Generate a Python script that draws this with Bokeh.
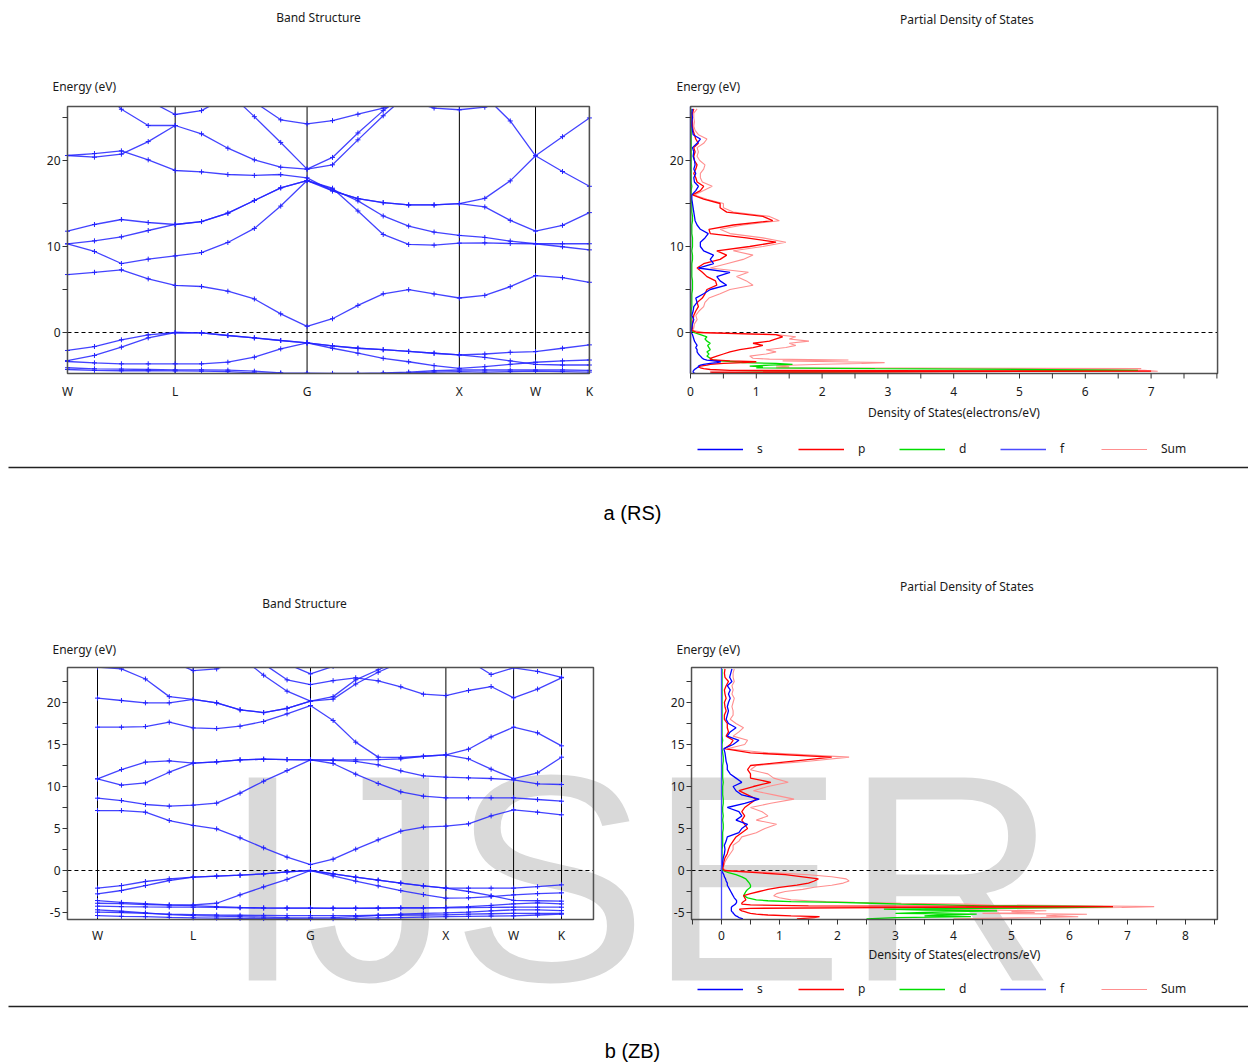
from bokeh.plotting import figure
from bokeh.models import Range1d, Legend, LegendItem
from bokeh.layouts import column
from bokeh.embed import file_html
from bokeh.resources import INLINE
from bokeh.core.properties import value

nan = float("nan")

# ---------------- k-path (W-L-G-X-W-K) ----------------
k_path = [0.0, 0.177, 0.354, 0.530, 0.707, 0.880, 1.053, 1.227, 1.400, 1.573,
          1.740, 1.907, 2.073, 2.240, 2.407, 2.573, 2.740, 2.907, 3.073, 3.250, 3.427]
sym_k = [0.0, 0.707, 1.573, 2.573, 3.073, 3.427]
sym_labels = ["W", "L", "G", "X", "W", "K"]

# ---------------- band energies (eV), RS ----------------
bands_rs = [
    [-2.09, -1.63, -0.85, -0.27, 0.0, -0.05, -0.35, -0.62, -0.93, -1.2, -1.55, -1.83, -2.0, -2.2, -2.41, -2.6, -2.5, -2.3, -2.22, -1.83, -1.44],
    [-3.26, -2.67, -1.7, -0.62, 0.0, -0.05, -0.35, -0.62, -0.93, -1.2, -1.83, -2.41, -3.0, -3.4, -3.85, -4.17, -3.97, -3.7, -3.46, -3.3, -3.2],
    [-3.37, -3.53, -3.64, -3.64, -3.64, -3.64, -3.45, -2.87, -1.9, -1.2, -1.55, -1.83, -2.0, -2.2, -2.41, -2.6, -2.9, -3.3, -3.7, -3.78, -3.78],
    [-4.1, -4.22, -4.26, -4.3, -4.34, -4.34, -4.38, -4.5, -4.7, -4.73, -4.75, -4.75, -4.7, -4.6, -4.45, -4.36, -4.36, -4.36, -4.36, -4.36, -4.4],
    [-4.3, -4.4, -4.45, -4.45, -4.47, -4.5, -4.55, -4.7, -4.75, -4.78, -4.8, -4.8, -4.78, -4.7, -4.6, -4.55, -4.6, -4.55, -4.5, -4.55, -4.6],
    [6.74, 7.0, 7.29, 6.24, 5.47, 5.35, 4.8, 3.9, 2.17, 0.72, 1.6, 3.15, 4.5, 4.98, 4.48, 4.01, 4.32, 5.33, 6.62, 6.38, 5.84],
    [10.31, 9.42, 8.02, 8.53, 8.91, 9.3, 10.47, 12.1, 14.7, 17.67, 16.78, 14.13, 11.4, 10.24, 10.16, 10.39, 10.43, 10.35, 10.32, 9.97, 9.61],
    [10.31, 10.66, 11.12, 11.86, 12.56, 12.9, 13.88, 15.35, 16.82, 17.67, 16.66, 15.3, 13.55, 12.38, 11.68, 11.29, 11.05, 10.63, 10.32, 10.32, 10.32],
    [11.78, 12.56, 13.14, 12.79, 12.56, 12.9, 13.88, 15.35, 16.82, 17.67, 16.47, 15.57, 15.1, 14.83, 14.83, 14.99, 14.6, 13.04, 11.79, 12.46, 13.94],
    [20.58, 20.81, 21.12, 20.08, 18.84, 18.68, 18.37, 18.26, 18.37, 17.98, 16.47, 15.57, 15.1, 14.83, 14.83, 14.99, 15.6, 17.63, 20.55, 22.77, 24.95],
    [20.58, 20.39, 20.74, 22.2, 24.07, 23.1, 21.43, 20.08, 19.22, 19.0, 20.36, 23.2, 25.8, 28.0, nan, nan, nan, nan, nan, nan, nan],
    [nan, nan, nan, nan, nan, nan, 28.0, 25.1, 22.1, 19.0, 19.5, 22.4, 25.2, 27.8, nan, nan, nan, nan, nan, nan, nan],
    [nan, 29.0, 25.96, 24.07, 24.07, nan, nan, nan, nan, nan, nan, nan, nan, nan, nan, nan, nan, nan, nan, nan, nan],
    [nan, nan, nan, 27.0, 25.35, 25.8, 27.5, nan, nan, nan, nan, nan, nan, nan, nan, nan, nan, nan, nan, nan, nan],
    [nan, nan, nan, nan, nan, nan, nan, 26.8, 24.73, 24.26, 24.64, 25.38, 26.1, 27.0, nan, nan, nan, nan, nan, nan, nan],
    [nan, nan, nan, nan, nan, nan, nan, nan, nan, nan, nan, nan, nan, 27.0, 26.1, 25.9, 26.2, 27.5, nan, nan, nan],
    [nan, nan, nan, nan, nan, nan, nan, nan, nan, nan, nan, nan, nan, nan, nan, nan, 27.5, 24.6, 20.55, 18.72, 17.0],
]

# ---------------- band energies (eV), ZB ----------------
bands_zb = [
    [-2.1, -1.79, -1.31, -0.99, -0.79, -0.67, -0.56, -0.4, -0.16, 0.0, -0.4, -0.8, -1.15, -1.5, -1.83, -2.1, -2.1, -2.1, -2.1, -1.93, -1.71],
    [-2.78, -2.38, -1.79, -1.19, -0.79, -0.67, -0.56, -0.4, -0.16, 0.0, -0.64, -1.27, -1.83, -2.39, -2.86, -3.3, -3.25, -3.1, -2.9, -2.75, -2.66],
    [-3.58, -3.8, -3.95, -4.1, -4.1, -3.9, -2.9, -1.95, -1.05, 0.0, -0.4, -0.8, -1.15, -1.5, -1.83, -2.1, -2.5, -3.0, -3.55, -3.6, -3.65],
    [-3.9, -3.95, -4.05, -4.12, -4.17, -4.3, -4.4, -4.45, -4.47, -4.48, -4.48, -4.47, -4.45, -4.43, -4.42, -4.4, -4.3, -4.15, -3.97, -3.85, -3.98],
    [-4.25, -4.3, -4.33, -4.35, -4.37, -4.4, -4.45, -4.47, -4.48, -4.48, -4.5, -4.5, -4.5, -4.48, -4.47, -4.45, -4.42, -4.4, -4.37, -4.37, -4.37],
    [-4.68, -4.85, -5.05, -5.25, -5.36, -5.42, -5.5, -5.55, -5.6, -5.63, -5.6, -5.5, -5.35, -5.2, -5.1, -5.04, -4.95, -4.8, -4.68, -4.68, -4.77],
    [-4.96, -5.0, -5.1, -5.2, -5.25, -5.3, -5.33, -5.35, -5.37, -5.38, -5.38, -5.36, -5.33, -5.3, -5.3, -5.28, -5.2, -5.15, -5.1, -5.1, -5.1],
    [-5.36, -5.45, -5.5, -5.58, -5.63, -5.67, -5.7, -5.72, -5.74, -5.75, -5.74, -5.7, -5.65, -5.6, -5.55, -5.5, -5.45, -5.42, -5.4, -5.3, -5.2],
    [7.14, 7.14, 6.94, 5.95, 5.36, 4.96, 3.89, 2.7, 1.59, 0.71, 1.35, 2.54, 3.65, 4.68, 5.16, 5.28, 5.56, 6.5, 7.22, 6.94, 6.63],
    [8.61, 8.33, 7.86, 7.66, 7.78, 8.02, 9.21, 10.63, 11.9, 13.17, 12.74, 11.47, 10.36, 9.37, 8.85, 8.65, 8.65, 8.65, 8.65, 8.45, 8.25],
    [10.91, 10.16, 10.44, 11.7, 12.78, 12.94, 13.17, 13.25, 13.21, 13.17, 13.1, 12.98, 12.58, 11.87, 11.27, 11.11, 11.03, 10.95, 10.79, 10.32, 10.24],
    [10.91, 12.02, 12.9, 13.06, 12.78, 12.94, 13.17, 13.25, 13.21, 13.17, 13.17, 13.17, 13.2, 13.3, 13.6, 13.77, 13.3, 12.06, 10.95, 11.63, 13.49],
    [17.06, 17.06, 17.14, 17.66, 16.98, 16.9, 17.18, 17.74, 18.65, 19.64, 17.86, 15.28, 13.5, 13.45, 13.6, 13.77, 14.44, 15.9, 17.06, 16.39, 14.84],
    [20.52, 20.24, 19.96, 19.96, 20.36, 19.96, 19.13, 18.8, 19.3, 20.16, 20.7, 22.7, 23.9, 25.0, nan, nan, nan, nan, nan, nan, nan],
    [24.2, 24.0, 22.8, 20.7, 20.36, 19.96, 19.13, 18.8, 19.3, 20.16, 20.4, 22.2, 23.6, 24.8, nan, nan, nan, nan, nan, nan, nan],
    [nan, nan, nan, nan, nan, nan, 25.5, 23.25, 21.35, 20.16, nan, nan, nan, nan, nan, nan, nan, nan, nan, nan, nan],
    [nan, nan, nan, nan, nan, nan, nan, nan, 24.6, 23.41, 24.3, nan, nan, nan, nan, nan, nan, nan, nan, nan, nan],
    [nan, nan, nan, nan, nan, nan, nan, 24.6, 22.7, 22.14, 22.6, 22.94, 22.58, 21.87, 20.99, 20.83, 21.43, 21.9, 20.56, 21.6, 22.94],
    [nan, nan, nan, 25.0, 23.8, 24.0, 25.0, nan, nan, nan, nan, nan, nan, nan, nan, nan, nan, nan, nan, nan, nan],
    [nan, nan, nan, nan, nan, nan, nan, nan, nan, nan, nan, nan, nan, nan, nan, nan, 25.0, 23.33, 24.13, 23.7, 23.0],
]

# ---------------- partial DOS, RS ----------------
energy_rs = [-4.9, -4.8, -4.7, -4.6, -4.5, -4.4, -4.3, -4.2, -4.1, -4.0, -3.9, -3.8, -3.7, -3.6, -3.5, -3.4, -3.3, -3.2, -3.1, -3.0,
             -2.75, -2.5, -2.25, -2.0, -1.75, -1.5, -1.25, -1.0, -0.75, -0.5, -0.25, 0.0, 0.25, 0.5,
             1.0, 1.5, 2.0, 2.5, 3.0, 3.5, 4.0, 4.5, 5.0, 5.5, 6.0, 6.5, 7.0, 7.5, 8.0, 8.5, 9.0, 9.5, 10.0, 10.5,
             11.0, 11.5, 12.0, 12.5, 13.0, 13.5, 14.0, 14.5, 15.0, 15.5, 16.0, 16.5, 17.0, 17.5, 18.0, 18.5, 19.0,
             19.5, 20.0, 20.5, 21.0, 21.5, 22.0, 22.5, 23.0, 23.5, 24.0, 24.5, 25.0, 25.5, 26.0]
s_rs = [0.12, 0.08, 0.05, 0.04, 0.04, 0.05, 0.06, 0.08, 0.1, 0.12, 0.12, 0.15, 0.2, 0.3, 0.4, 0.46, 0.35, 0.25, 0.2, 0.18,
        0.15, 0.12, 0.1, 0.1, 0.08, 0.1, 0.08, 0.06, 0.05, 0.04, 0.03, 0.01, 0.01, 0.02,
        0.03, 0.05, 0.02, 0.04, 0.05, 0.1, 0.08, 0.2, 0.3, 0.55, 0.45, 0.4, 0.6, 0.12, 0.35, 0.3, 0.35, 0.2, 0.15, 0.15,
        0.22, 0.27, 0.15, 0.1, 0.07, 0.06, 0.05, 0.04, 0.03, 0.02, 0.02, 0.08, 0.12, 0.06, 0.05, 0.08, 0.05,
        0.07, 0.06, 0.04, 0.05, 0.03, 0.1, 0.15, 0.04, 0.03, 0.02, 0.02, 0.03, 0.02, 0.03]
p_rs = [0.25, 5.3, 0.4, 0.3, 7.0, 0.6, 0.3, 0.2, 0.15, 0.12, 0.15, 0.25, 0.3, 0.5, 0.8, 1.0, 0.6, 0.35, 0.3, 0.3,
        0.4, 0.5, 0.6, 0.75, 0.95, 1.1, 0.95, 1.2, 1.3, 1.4, 1.3, 0.1, 0.02, 0.03,
        0.03, 0.04, 0.05, 0.08, 0.12, 0.1, 0.18, 0.22, 0.25, 0.4, 0.38, 0.25, 0.18, 0.1, 0.2, 0.45, 0.55, 0.4, 0.9, 1.3,
        0.85, 0.3, 0.28, 0.65, 1.25, 1.1, 0.55, 0.45, 0.45, 0.2, 0.03, 0.15, 0.2, 0.1, 0.08, 0.05, 0.08,
        0.1, 0.06, 0.05, 0.07, 0.05, 0.12, 0.08, 0.06, 0.04, 0.03, 0.03, 0.02, 0.03, 0.05]
d_rs = [0.1, 3.6, 0.5, 1.0, 4.8, 6.8, 5.0, 2.8, 1.0, 1.1, 0.9, 1.2, 1.55, 1.3, 0.8, 0.68, 0.45, 0.35, 0.32, 0.3,
        0.25, 0.28, 0.25, 0.3, 0.28, 0.26, 0.3, 0.25, 0.22, 0.25, 0.15, 0.05, 0.02, 0.01,
        0.01, 0.01, 0.01, 0.01, 0.02, 0.02, 0.02, 0.02, 0.03, 0.03, 0.03, 0.02, 0.02, 0.02, 0.02, 0.03, 0.03, 0.02, 0.03, 0.03,
        0.03, 0.02, 0.02, 0.02, 0.03, 0.03, 0.02, 0.02, 0.02, 0.01, 0.01, 0.01, 0.02, 0.01, 0.01, 0.01, 0.01,
        0.01, 0.01, 0.01, 0.01, 0.01, 0.01, 0.01, 0.01, 0.01, 0.01, 0.01, 0.01, 0.01, 0.01]
sum_rs = [0.4, 5.5, 1.0, 1.4, 7.1, 6.9, 5.2, 6.85, 1.3, 1.5, 1.3, 1.5, 2.0, 2.6, 2.95, 2.2, 1.4, 2.4, 1.2, 0.95,
          0.9, 1.15, 1.3, 1.15, 1.45, 1.6, 1.5, 1.8, 1.5, 1.6, 1.3, 0.2, 0.03, 0.05,
          0.06, 0.1, 0.08, 0.13, 0.2, 0.22, 0.28, 0.45, 0.6, 0.95, 0.85, 0.7, 0.88, 0.3, 0.55, 0.8, 0.95, 0.65, 1.1, 1.45,
          1.1, 0.6, 0.45, 0.8, 1.35, 1.2, 0.65, 0.5, 0.5, 0.25, 0.06, 0.2, 0.33, 0.18, 0.15, 0.15, 0.2,
          0.22, 0.14, 0.1, 0.12, 0.1, 0.2, 0.25, 0.12, 0.07, 0.05, 0.06, 0.05, 0.05, 0.1]
f_rs_energy = [-4.77, 26.28]
f_rs = [0.0, 0.0]

# ---------------- partial DOS, ZB ----------------
energy_zb = [-5.75, -5.6, -5.5, -5.4, -5.3, -5.2, -5.1, -5.0, -4.9, -4.8, -4.7, -4.6, -4.5, -4.4, -4.3, -4.2, -4.1, -4.0,
             -3.9, -3.8, -3.7, -3.6, -3.5, -3.25, -3.0, -2.75, -2.5, -2.25, -2.0, -1.75, -1.5, -1.25, -1.0, -0.75,
             -0.5, -0.25, 0.0, 0.25, 0.5,
             1.0, 1.5, 2.0, 2.5, 3.0, 3.5, 4.0, 4.5, 5.0, 5.5, 6.0, 6.5, 7.0, 7.5, 8.0, 8.5, 9.0, 9.5, 10.0, 10.5,
             11.0, 11.5, 12.0, 12.5, 13.0, 13.5, 14.0, 14.5, 15.0, 15.5, 16.0, 16.5, 17.0, 17.5, 18.0, 18.5, 19.0,
             19.5, 20.0, 20.5, 21.0, 21.5, 22.0, 22.5, 23.0, 23.5, 24.0]
s_zb = [0.37, 0.3, 0.28, 0.25, 0.23, 0.22, 0.2, 0.2, 0.18, 0.17, 0.17, 0.17, 0.17, 0.17, 0.18, 0.2, 0.22, 0.24,
        0.25, 0.26, 0.26, 0.26, 0.25, 0.22, 0.2, 0.18, 0.16, 0.14, 0.12, 0.1, 0.1, 0.08, 0.07, 0.05,
        0.04, 0.02, 0.0, 0.0, 0.01,
        0.02, 0.03, 0.05, 0.06, 0.05, 0.08, 0.1, 0.3, 0.35, 0.45, 0.25, 0.35, 0.3, 0.1, 0.4, 0.65, 0.35, 0.25, 0.2, 0.35,
        0.25, 0.15, 0.1, 0.1, 0.08, 0.07, 0.06, 0.04, 0.2, 0.3, 0.1, 0.15, 0.25, 0.12, 0.08, 0.1, 0.12,
        0.1, 0.12, 0.15, 0.12, 0.15, 0.1, 0.18, 0.14, 0.16, 0.18]
p_zb = [1.3, 1.6, 1.69, 1.2, 0.8, 0.6, 0.5, 0.45, 0.4, 0.35, 0.32, 0.31, 0.5, 3.5, 6.75, 1.5, 0.5, 0.35,
        0.35, 0.36, 0.38, 0.4, 0.42, 0.4, 0.38, 0.5, 0.65, 0.8, 1.0, 1.3, 1.5, 1.6, 1.67, 1.4,
        1.1, 0.6, 0.05, 0.02, 0.03,
        0.04, 0.06, 0.1, 0.12, 0.15, 0.2, 0.25, 0.35, 0.45, 0.4, 0.35, 0.4, 0.35, 0.4, 0.5, 0.6, 0.45, 0.3, 0.55, 0.85,
        0.5, 0.5, 0.45, 0.5, 1.2, 1.9, 0.5, 0.05, 0.15, 0.2, 0.08, 0.12, 0.1, 0.1, 0.05, 0.05, 0.08,
        0.06, 0.05, 0.08, 0.06, 0.05, 0.08, 0.12, 0.06, 0.05, 0.06]
d_zb = [2.5, 3.0, 4.3, 3.5, 3.8, 4.4, 3.0, 3.5, 4.0, 4.75, 3.5, 2.8, 4.5, 6.2, 6.75, 4.5, 3.8, 3.1,
        2.6, 2.0, 1.2, 0.8, 0.6, 0.45, 0.38, 0.4, 0.42, 0.45, 0.5, 0.5, 0.48, 0.45, 0.42, 0.35,
        0.25, 0.12, 0.02, 0.01, 0.01,
        0.01, 0.01, 0.01, 0.01, 0.02, 0.02, 0.02, 0.02, 0.03, 0.03, 0.02, 0.03, 0.02, 0.02, 0.03, 0.03, 0.02, 0.02, 0.02, 0.03,
        0.02, 0.02, 0.02, 0.02, 0.03, 0.03, 0.02, 0.01, 0.01, 0.02, 0.01, 0.01, 0.01, 0.01, 0.01, 0.01, 0.01,
        0.01, 0.01, 0.01, 0.01, 0.01, 0.01, 0.01, 0.01, 0.01, 0.01]
sum_zb = [4.0, 5.5, 6.15, 5.6, 5.8, 6.3, 4.5, 5.4, 5.0, 5.6, 4.5, 3.5, 5.5, 6.9, 7.46, 6.3, 4.65, 4.2,
          3.1, 2.3, 1.8, 1.5, 1.2, 1.0, 0.9, 0.95, 1.1, 1.4, 1.6, 1.9, 2.1, 2.2, 2.15, 1.9,
          1.5, 0.9, 0.1, 0.02, 0.04,
          0.06, 0.1, 0.15, 0.2, 0.2, 0.3, 0.35, 0.6, 0.75, 0.95, 0.6, 0.8, 0.7, 0.5, 0.85, 1.25, 0.9, 0.55, 0.8, 1.15,
          0.9, 0.8, 0.5, 0.6, 1.5, 2.2, 0.8, 0.1, 0.4, 0.45, 0.2, 0.3, 0.38, 0.25, 0.15, 0.2, 0.2,
          0.18, 0.2, 0.22, 0.18, 0.2, 0.18, 0.22, 0.2, 0.2, 0.22]
f_zb_energy = [-5.83, 24.17]
f_zb = [0.0, 0.0]

# axis ticks
e_ticks_rs = [0, 10, 20]
e_minor_rs = [5, 15, 25]
e_ticks_zb = [-5, 0, 5, 10, 15, 20]
e_minor_zb = [-2.5, 2.5, 7.5, 12.5, 17.5, 22.5]
dos_ticks_rs = [0, 1, 2, 3, 4, 5, 6, 7]
dos_minor_rs = [0.5, 1.5, 2.5, 3.5, 4.5, 5.5, 6.5, 7.5, 8.0]
dos_ticks_zb = [0, 1, 2, 3, 4, 5, 6, 7, 8]
dos_minor_zb = [-0.5, 0.5, 1.5, 2.5, 3.5, 4.5, 5.5, 6.5, 7.5, 8.5]
legend_labels = ["s", "p", "d", "f", "Sum"]

# ---------------- styling ----------------
FONT = "Noto Sans"
TXT = "#1a1a1a"
BAND_COLOR = "#2222ff"
FRAME = "#505050"
TICK = "#333333"
COLORS = {"s": "#0000ff", "p": "#ff0000", "d": "#00dd00", "f": "#4a4aff", "Sum": "#ff8f8f"}
W = 1248


def row_fig(height, page_top, band_xr, dos_xr, e_range):
    """One canvas per row; band panel uses the default x range (k), the DOS panel the
    'dos' range, both share the energy scale; 'px'/'py' are page-pixel ranges."""
    p = figure(width=W, height=height, x_range=Range1d(*band_xr), y_range=Range1d(*e_range),
               x_axis_type=None, y_axis_type=None, output_backend="svg", toolbar_location=None,
               min_border=0, outline_line_color=None)
    p.extra_x_ranges = {"dos": Range1d(*dos_xr), "px": Range1d(0, W)}
    p.extra_y_ranges = {"py": Range1d(page_top + height, page_top)}
    p.background_fill_color = "white"
    p.border_fill_color = "white"
    return p


def texts(p, xs, ys, labels, xr="px", yr="py", align="center", size="12px", font=FONT,
          color=TXT, baseline="middle", level="glyph"):
    p.text(x=xs, y=ys, text=labels, text_font=value(font), text_font_size=value(size),
           text_color=color, text_align=align, text_baseline=baseline, level=level,
           x_range_name=xr, y_range_name=yr)


def page_quad(p, l, r, t, b, **kw):
    p.quad(left=[l], right=[r], top=[t], bottom=[b], x_range_name="px", y_range_name="py", **kw)


def draw_row(height, page_top, band_xr, dos_xr, e_range, bands, band_box, dos_box,
             energy, s, pp, d, tot, f_e, f, e_major, e_minor, dos_major, dos_minor,
             band_px_box, dos_px_box, tick_label_py, axis_label_py, band_title, dos_title,
             band_energy_lbl, dos_energy_lbl, legend_loc, mask_bottom_py, caption, caption_line_py,
             caption_py):
    p = row_fig(height, page_top, band_xr, dos_xr, e_range)
    bx0, bx1, by0, by1 = band_box
    dx0, dx1, dy0, dy1 = dos_box
    # band structure: symmetry lines, Fermi level, bands
    p.segment(x0=sym_k, y0=[by0] * len(sym_k), x1=sym_k, y1=[by1] * len(sym_k),
              line_color="black", line_width=1)
    p.segment(x0=[bx0], y0=[0], x1=[bx1], y1=[0], line_color="black", line_width=1, line_dash="4 3")
    for b in bands:
        p.line(k_path, b, line_color=BAND_COLOR, line_width=1.3, line_alpha=0.85)
        p.scatter(k_path, b, marker="cross", size=5, line_color=BAND_COLOR, line_width=1)
    # partial DOS
    p.segment(x0=[dx0], y0=[0], x1=[dx1], y1=[0], line_color="black", line_width=1, line_dash="4 3",
              x_range_name="dos")
    r_sum = p.line(tot, energy, line_color=COLORS["Sum"], line_width=1.1, x_range_name="dos")
    r_d = p.line(d, energy, line_color=COLORS["d"], line_width=1.3, x_range_name="dos")
    r_p = p.line(pp, energy, line_color=COLORS["p"], line_width=1.3, x_range_name="dos")
    r_s = p.line(s, energy, line_color=COLORS["s"], line_width=1.3, x_range_name="dos")
    r_f = p.line(f, f_e, line_color=COLORS["f"], line_width=1.3, x_range_name="dos")
    # white masks outside the plot boxes (hide band segments leaving the box)
    page_quad(p, 0, W, page_top, band_px_box[2], fill_color="white", line_color=None)
    if mask_bottom_py is not None:
        page_quad(p, 0, W, band_px_box[3], mask_bottom_py, fill_color="white", line_color=None)
    # frames
    p.quad(left=[bx0], right=[bx1], bottom=[by0], top=[by1], fill_alpha=0, line_color=FRAME, line_width=1.5)
    p.quad(left=[dx0], right=[dx1], bottom=[dy0], top=[dy1], fill_alpha=0, line_color=FRAME,
           line_width=1.5, x_range_name="dos")
    # energy axes (both panels)
    allt = e_major + e_minor
    for left in (band_px_box[0], dos_px_box[0]):
        p.segment(x0=[left - 5] * len(allt), y0=allt, x1=[left] * len(allt), y1=allt,
                  line_color=TICK, line_width=1, x_range_name="px")
        texts(p, [left - 7] * len(e_major), e_major, [str(t) for t in e_major], yr="default", align="right")
    # k-point labels
    texts(p, sym_k, [tick_label_py] * len(sym_k), sym_labels, xr="default")
    # DOS axis ticks and labels
    allx = dos_major + dos_minor
    p.segment(x0=allx, y0=[dos_px_box[3]] * len(allx), x1=allx, y1=[dos_px_box[3] + 5] * len(allx),
              line_color=TICK, line_width=1, x_range_name="dos", y_range_name="py")
    texts(p, dos_major, [tick_label_py] * len(dos_major), [str(t) for t in dos_major], xr="dos")
    texts(p, [(dos_px_box[0] + dos_px_box[1]) / 2], [axis_label_py], ["Density of States(electrons/eV)"])
    # titles
    texts(p, [band_title[0]], [band_title[1]], ["Band Structure"])
    texts(p, [dos_title[0]], [dos_title[1]], ["Partial  Density of States"])
    texts(p, [band_energy_lbl[0]], [band_energy_lbl[1]], ["Energy (eV)"], align="left")
    texts(p, [dos_energy_lbl[0]], [dos_energy_lbl[1]], ["Energy (eV)"], align="left")
    # legend
    rends = {"s": r_s, "p": r_p, "d": r_d, "f": r_f, "Sum": r_sum}
    legend = Legend(items=[LegendItem(label=lab, renderers=[rends[lab]]) for lab in legend_labels],
                    orientation="horizontal", location=legend_loc,
                    glyph_width=46, glyph_height=14, label_standoff=14, label_width=40, spacing=1,
                    padding=0, margin=0, border_line_color=None, background_fill_alpha=0,
                    label_text_font=FONT, label_text_font_size="12px", label_text_color=TXT)
    p.add_layout(legend)
    # caption and separator
    p.segment(x0=[8], y0=[caption_line_py], x1=[W], y1=[caption_line_py], line_color="#222222",
              line_width=1.3, x_range_name="px", y_range_name="py")
    texts(p, [632], [caption_py], [caption], size="20px", font="Liberation Sans", color="black")
    return p


# ---- row a (RS): page y 0..540 ----
row_a = draw_row(540, 0, (-0.4399, 7.7544), (-10.4863, 8.4802), (-24.186, 38.605),
                 bands_rs, (0.0, 3.427, -4.77, 26.28), (0.0, 8.01, -4.77, 26.28),
                 energy_rs, s_rs, p_rs, d_rs, sum_rs, f_rs_energy, f_rs,
                 e_ticks_rs, e_minor_rs, dos_ticks_rs, dos_minor_rs,
                 (67, 589, 106, 373), (690, 1217, 106, 373), 391, 412,
                 (318, 17), (968, 19), (52, 86), (676, 86), (697, 83), 386,
                 "a (RS)", 467, 512)

# ---- row b (ZB): page y 540..1063 ----
row_b = draw_row(523, 540, (-0.7164, 8.5007), (-12.431, 9.0862), (-22.976, 39.286),
                 bands_zb, (-0.222, 3.663, -5.83, 24.17), (-0.517, 8.55, -5.83, 24.17),
                 energy_zb, s_zb, p_zb, d_zb, sum_zb, f_zb_energy, f_zb,
                 e_ticks_zb, e_minor_zb, dos_ticks_zb, dos_minor_zb,
                 (67, 593, 667, 919), (691, 1217, 667, 919), 935, 954,
                 (304, 603), (968, 586), (52, 649), (676, 649), (697, 66), None,
                 "b (ZB)", 1006, 1050)

# watermark
texts(row_b, [221], [878], ["IJSER"], align="left", size="295px", font="Liberation Sans",
      color="#d9d9d9", baseline="alphabetic", level="underlay")

layout = column(row_a, row_b)
open("out.html", "w").write(file_html(layout, INLINE))
